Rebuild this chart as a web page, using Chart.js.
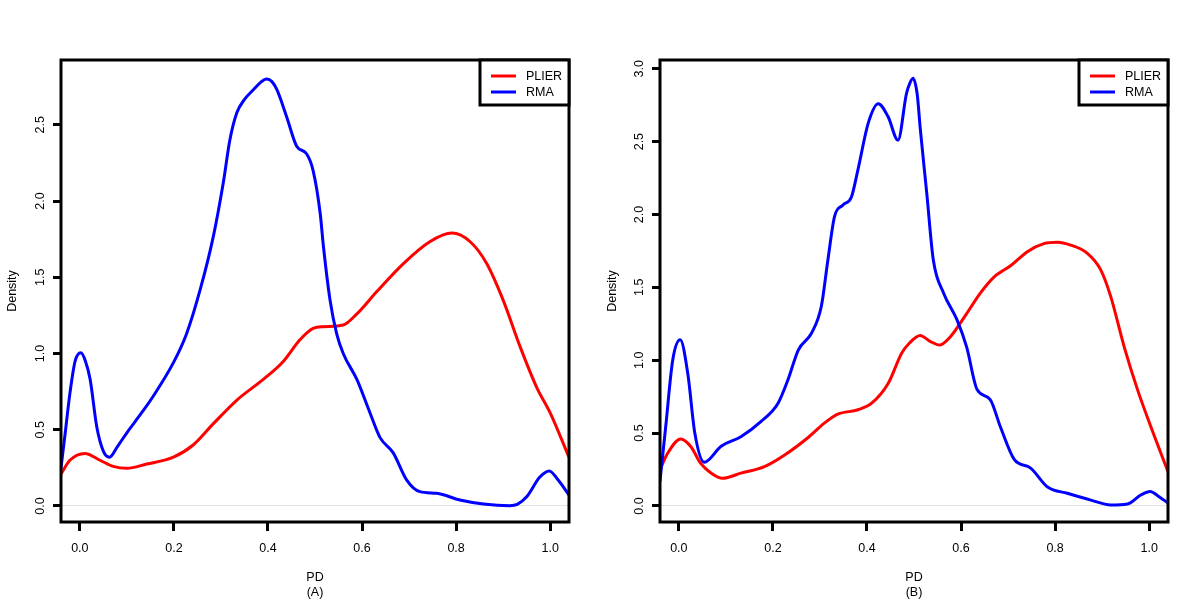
<!DOCTYPE html>
<html>
<head>
<meta charset="utf-8">
<script src="https://cdn.jsdelivr.net/npm/chart.js@4.4.1/dist/chart.umd.min.js"></script>
<style>
  html, body { margin: 0; padding: 0; background: #fff; }
  .wrap { display: flex; width: 1200px; height: 600px; }
  canvas { display: block; }
</style>
</head>
<body>
<div class="wrap">
  <canvas id="panelA" width="600" height="600"></canvas>
  <canvas id="panelB" width="600" height="600"></canvas>
</div>
<script>
/* ================= DATA ================= */
const seriesNames = ["PLIER", "RMA"];

// panel (A)
const plierAx = [-0.04, -0.021, 0.011, 0.043, 0.071, 0.10, 0.142, 0.199, 0.241, 0.284, 0.334, 0.39, 0.433, 0.468, 0.496, 0.518, 0.56, 0.589, 0.631, 0.688, 0.744, 0.791, 0.83, 0.865, 0.90, 0.936, 0.971, 1.00, 1.04];
const plierAy = [0.21, 0.30, 0.345, 0.30, 0.26, 0.247, 0.275, 0.32, 0.40, 0.54, 0.695, 0.83, 0.95, 1.09, 1.165, 1.176, 1.187, 1.26, 1.405, 1.59, 1.733, 1.79, 1.733, 1.59, 1.35, 1.045, 0.78, 0.61, 0.32];
const rmaAx = [-0.04, -0.031, -0.021, -0.01, 0.002, 0.012, 0.022, 0.036, 0.05, 0.063, 0.08, 0.10, 0.13, 0.156, 0.199, 0.227, 0.256, 0.284, 0.305, 0.319, 0.334, 0.351, 0.369, 0.385, 0.397, 0.408, 0.419, 0.44, 0.461, 0.482, 0.496, 0.511, 0.518, 0.532, 0.546, 0.56, 0.589, 0.617, 0.638, 0.666, 0.695, 0.723, 0.759, 0.808, 0.858, 0.914, 0.93, 0.95, 0.978, 0.998, 1.017, 1.04];
const rmaAy = [0.25, 0.48, 0.74, 0.95, 1.005, 0.95, 0.83, 0.52, 0.36, 0.32, 0.39, 0.48, 0.605, 0.72, 0.94, 1.13, 1.42, 1.77, 2.12, 2.40, 2.58, 2.67, 2.73, 2.78, 2.80, 2.785, 2.73, 2.55, 2.36, 2.31, 2.20, 1.92, 1.70, 1.35, 1.13, 1.00, 0.83, 0.61, 0.45, 0.35, 0.17, 0.094, 0.083, 0.039, 0.013, 0.002, 0.01, 0.06, 0.19, 0.23, 0.17, 0.072];

// panel (B)
const plierBx = [-0.04, -0.024, 0.004, 0.025, 0.047, 0.069, 0.093, 0.132, 0.182, 0.225, 0.275, 0.31, 0.338, 0.381, 0.41, 0.445, 0.474, 0.491, 0.513, 0.534, 0.555, 0.577, 0.612, 0.641, 0.67, 0.706, 0.741, 0.776, 0.805, 0.833, 0.868, 0.897, 0.918, 0.947, 0.975, 1.004, 1.04];
const plierBy = [0.25, 0.36, 0.46, 0.41, 0.29, 0.225, 0.19, 0.225, 0.27, 0.35, 0.47, 0.57, 0.63, 0.66, 0.705, 0.84, 1.05, 1.12, 1.17, 1.13, 1.105, 1.16, 1.32, 1.46, 1.57, 1.65, 1.745, 1.80, 1.81, 1.79, 1.735, 1.62, 1.44, 1.09, 0.80, 0.54, 0.235];
const rmaBx = [-0.04, -0.028, -0.013, 0.003, 0.019, 0.034, 0.054, 0.09, 0.132, 0.175, 0.211, 0.232, 0.254, 0.282, 0.303, 0.317, 0.331, 0.349, 0.367, 0.381, 0.403, 0.424, 0.445, 0.466, 0.484, 0.491, 0.498, 0.507, 0.513, 0.527, 0.541, 0.563, 0.591, 0.612, 0.634, 0.662, 0.684, 0.713, 0.748, 0.784, 0.826, 0.876, 0.918, 0.954, 0.982, 1.002, 1.021, 1.04];
const rmaBy = [0.17, 0.54, 1.00, 1.14, 0.91, 0.50, 0.30, 0.41, 0.475, 0.58, 0.705, 0.865, 1.07, 1.185, 1.37, 1.69, 1.985, 2.065, 2.12, 2.31, 2.63, 2.76, 2.67, 2.51, 2.83, 2.90, 2.935, 2.82, 2.60, 2.15, 1.69, 1.46, 1.28, 1.09, 0.80, 0.73, 0.54, 0.32, 0.26, 0.13, 0.087, 0.04, 0.007, 0.014, 0.075, 0.10, 0.064, 0.02];

/* ================= STYLE ================= */
const FONT = '"Liberation Sans", Arial, Helvetica, sans-serif';
const FONT_SIZE = 12.5;
const COLORS = ["#ff0000", "#0000ff"];
Chart.defaults.font.family = FONT;
Chart.defaults.font.size = FONT_SIZE;
Chart.defaults.color = "#000";

function toPoints(xs, ys) {
  return xs.map((x, i) => ({ x: x, y: ys[i] }));
}

// box, rotated y labels (R style) and the legend in the top right corner
const framePlugin = {
  id: "frame",
  afterDraw(chart) {
    const { ctx, chartArea: a, scales } = chart;
    ctx.save();
    ctx.fillStyle = "#000";
    ctx.font = FONT_SIZE + "px " + FONT;
    ctx.textAlign = "center";
    ctx.textBaseline = "middle";
    scales.y.ticks.forEach(t => {
      const py = scales.y.getPixelForValue(t.value);
      ctx.save();
      ctx.translate(scales.y.right - 20, py);
      ctx.rotate(-Math.PI / 2);
      ctx.fillText(t.value.toFixed(1), 0, 0);
      ctx.restore();
    });

    ctx.strokeStyle = "#000";
    ctx.lineWidth = 3;
    ctx.strokeRect(a.left, a.top, a.right - a.left, a.bottom - a.top);

    // legend
    const w = 89, h = 45;
    const lx = a.right - w, ly = a.top;
    ctx.fillStyle = "#fff";
    ctx.fillRect(lx, ly, w, h);
    ctx.strokeRect(lx, ly, w, h);
    ctx.textAlign = "left";
    chart.data.datasets.forEach((ds, i) => {
      const y = ly + 16 + i * 16;
      ctx.strokeStyle = ds.borderColor;
      ctx.lineWidth = 3;
      ctx.beginPath();
      ctx.moveTo(a.right - 78, y);
      ctx.lineTo(a.right - 53, y);
      ctx.stroke();
      ctx.fillStyle = "#000";
      ctx.fillText(ds.label, a.right - 43, y + 0.5);
    });
    ctx.restore();
  }
};

/* ================= PANELS ================= */
function makePanel(id, px, py, rx, ry, yMin, yMax, letter, yWidth, rightPad) {
  return new Chart(document.getElementById(id), {
    type: "line",
    data: {
      datasets: [
        { label: seriesNames[0], data: toPoints(px, py), borderColor: COLORS[0], order: 1 },
        { label: seriesNames[1], data: toPoints(rx, ry), borderColor: COLORS[1], order: 0 }
      ]
    },
    options: {
      responsive: false,
      animation: false,
      layout: { padding: { top: 60, right: rightPad, bottom: 0, left: 0 } },
      elements: {
        point: { radius: 0 },
        line: {
          borderWidth: 3,
          fill: false,
          cubicInterpolationMode: "monotone",
          borderCapStyle: "round",
          borderJoinStyle: "round"
        }
      },
      plugins: { legend: { display: false }, tooltip: { enabled: false } },
      scales: {
        x: {
          type: "linear",
          min: -0.04,
          max: 1.04,
          afterFit: s => { s.height = 78; },
          border: { display: false },
          grid: {
            drawOnChartArea: false,
            drawTicks: true,
            tickLength: 9,
            tickWidth: 3,
            tickColor: "#000"
          },
          ticks: {
            stepSize: 0.2,
            includeBounds: false,
            maxRotation: 0,
            padding: 10,
            color: "#000",
            callback: v => v.toFixed(1)
          },
          title: {
            display: true,
            text: ["PD", "(" + letter + ")"],
            color: "#000",
            padding: { top: 0, bottom: 0 }
          }
        },
        y: {
          type: "linear",
          min: yMin,
          max: yMax,
          afterFit: s => { s.width = yWidth; },
          border: { display: false },
          grid: {
            drawOnChartArea: true,
            color: c => (c.tick && c.tick.value === 0 ? "#e2e2e2" : "rgba(0,0,0,0)"),
            lineWidth: 1,
            drawTicks: true,
            tickLength: 8,
            tickWidth: 3,
            tickColor: "#000"
          },
          ticks: {
            display: false,
            stepSize: 0.5,
            includeBounds: false
          },
          title: {
            display: true,
            text: "Density",
            color: "#000",
            padding: { top: 5, bottom: 0 }
          }
        }
      }
    },
    plugins: [framePlugin]
  });
}

makePanel("panelA", plierAx, plierAy, rmaAx, rmaAy, -0.105, 2.925, "A", 61, 31);
makePanel("panelB", plierBx, plierBy, rmaBx, rmaBy, -0.11, 3.06, "B", 60, 32);
</script>
</body>
</html>
